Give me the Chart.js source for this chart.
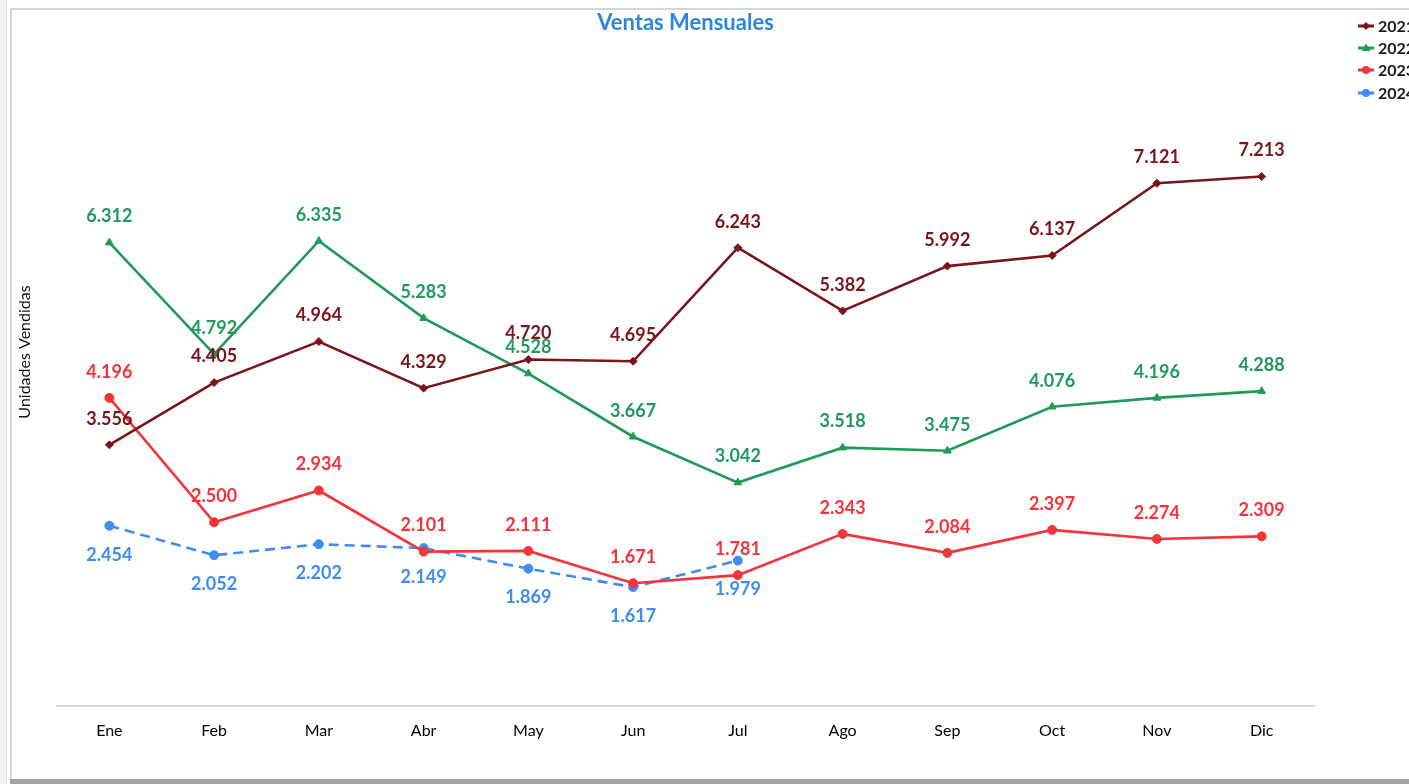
<!DOCTYPE html>
<html>
<head>
<meta charset="utf-8">
<script src="https://cdn.jsdelivr.net/npm/chart.js@4/dist/chart.umd.min.js"></script>
<style>
  html, body { margin: 0; padding: 0; background: #ffffff; width: 1409px; height: 784px; overflow: hidden; }
  #strip { position: absolute; left: 0; top: 0; width: 6px; height: 784px; background: #f1f1f1; border-right: 1px solid #e2e2e2; }
  #box { position: absolute; left: 10px; top: 8px; width: 1420px; height: 772px; border-left: 2px solid #d4d4d4; border-top: 2px solid #d4d4d4; background: #fff; }
  #shadow { position: absolute; left: 10px; top: 779px; width: 1409px; height: 5px; background: #a3a3a3; }
  #wrap { position: absolute; left: 0; top: 0; width: 1409px; height: 784px; }
</style>
</head>
<body>
<div id="strip"></div>
<div id="box"></div>
<div id="shadow"></div>
<div id="wrap"><canvas id="c" width="1409" height="784"></canvas></div>
<script>
const months = ['Ene','Feb','Mar','Abr','May','Jun','Jul','Ago','Sep','Oct','Nov','Dic'];
const seriesNames = ['2021','2022','2023','2024'];
const v2021 = [3556, 4405, 4964, 4329, 4720, 4695, 6243, 5382, 5992, 6137, 7121, 7213];
const v2022 = [6312, 4792, 6335, 5283, 4528, 3667, 3042, 3518, 3475, 4076, 4196, 4288];
const v2023 = [4196, 2500, 2934, 2101, 2111, 1671, 1781, 2343, 2084, 2397, 2274, 2309];
const v2024 = [2454, 2052, 2202, 2149, 1869, 1617, 1979];

const colors = ['#7a1519', '#1f9a57', '#f3353b', '#3f8def'];
const labelColors = ['#7a1519', '#1f9a5f', '#f3353b', '#3f8def'];
const markers = ['rectRot', 'triangle', 'circle', 'circle'];
const markerRadius = [4, 4.5, 4.5, 4.5];

function fmt(v) {
  const s = String(Math.round(v));
  return s.length > 3 ? s.slice(0, s.length - 3) + '.' + s.slice(-3) : s;
}

const labelPlugin = {
  id: 'valueLabels',
  afterDatasetsDraw(chart) {
    const ctx = chart.ctx;
    ctx.save();
    ctx.font = 'bold 18px Lato';
    ctx.textAlign = 'center';
    ctx.textBaseline = 'middle';
    chart.data.datasets.forEach((ds, i) => {
      const meta = chart.getDatasetMeta(i);
      meta.data.forEach((pt, j) => {
        const v = ds.data[j];
        if (v == null) return;
        const dy = i === 3 ? 29 : -26;
        ctx.fillStyle = labelColors[i];
        ctx.fillText(fmt(v), pt.x, pt.y + dy);
      });
    });
    ctx.restore();
  }
};

const extrasPlugin = {
  id: 'extras',
  afterDraw(chart) {
    const ctx = chart.ctx;
    ctx.save();
    // y-axis title
    ctx.font = '16px Lato';
    ctx.fillStyle = '#111';
    ctx.textAlign = 'center';
    ctx.textBaseline = 'middle';
    ctx.translate(25, 352);
    ctx.rotate(-Math.PI / 2);
    ctx.fillText('Unidades Vendidas', 0, 0);
    ctx.restore();
    // legend
    ctx.save();
    const ys = [26, 48, 70, 93];
    seriesNames.forEach((name, i) => {
      const y = ys[i];
      ctx.strokeStyle = colors[i];
      ctx.lineWidth = 3;
      ctx.beginPath();
      ctx.moveTo(1358, y);
      ctx.lineTo(1374, y);
      ctx.stroke();
      ctx.fillStyle = colors[i];
      ctx.beginPath();
      if (markers[i] === 'circle') { ctx.arc(1366, y, 4, 0, Math.PI * 2); }
      else if (markers[i] === 'triangle') { ctx.moveTo(1366, y - 4.5); ctx.lineTo(1370.5, y + 3); ctx.lineTo(1361.5, y + 3); ctx.closePath(); }
      else { ctx.moveTo(1366, y - 4); ctx.lineTo(1370, y); ctx.lineTo(1366, y + 4); ctx.lineTo(1362, y); ctx.closePath(); }
      ctx.fill();
      ctx.font = 'bold 16px Lato';
      ctx.fillStyle = '#1a1a1a';
      ctx.textAlign = 'left';
      ctx.textBaseline = 'middle';
      ctx.fillText(name, 1378, y + 1);
    });
    ctx.restore();
  }
};

const allValues = [v2021, v2022, v2023, v2024];
const datasets = allValues.map((vals, i) => ({
  label: seriesNames[i],
  data: vals,
  borderColor: colors[i],
  backgroundColor: colors[i],
  borderWidth: 2.6,
  borderDash: i === 3 ? [10, 6] : [],
  pointStyle: markers[i],
  pointRadius: markerRadius[i],
  pointBorderWidth: 1,
  pointBorderColor: colors[i],
  pointBackgroundColor: colors[i],
  tension: 0,
  fill: false
}));

new Chart(document.getElementById('c'), {
  type: 'line',
  data: { labels: months, datasets },
  options: {
    responsive: false,
    animation: false,
    devicePixelRatio: 1,
    layout: { padding: { left: 57, right: 95, top: 0, bottom: 37 } },
    plugins: {
      legend: { display: false },
      tooltip: { enabled: false },
      title: {
        display: true,
        text: 'Ventas Mensuales',
        color: '#2b86e0',
        font: { family: 'Lato', size: 22, weight: 'bold', lineHeight: 1.2 },
        padding: { top: 10, bottom: 9 }
      }
    },
    scales: {
      x: {
        offset: true,
        grid: { display: false },
        border: { display: true, color: '#d9d9d9', width: 2 },
        ticks: { color: '#000', font: { family: 'Lato', size: 16 }, padding: 7, maxRotation: 0 }
      },
      y: {
        display: false,
        min: 0,
        max: 9000
      }
    }
  },
  plugins: [labelPlugin, extrasPlugin]
});
</script>
</body>
</html>
